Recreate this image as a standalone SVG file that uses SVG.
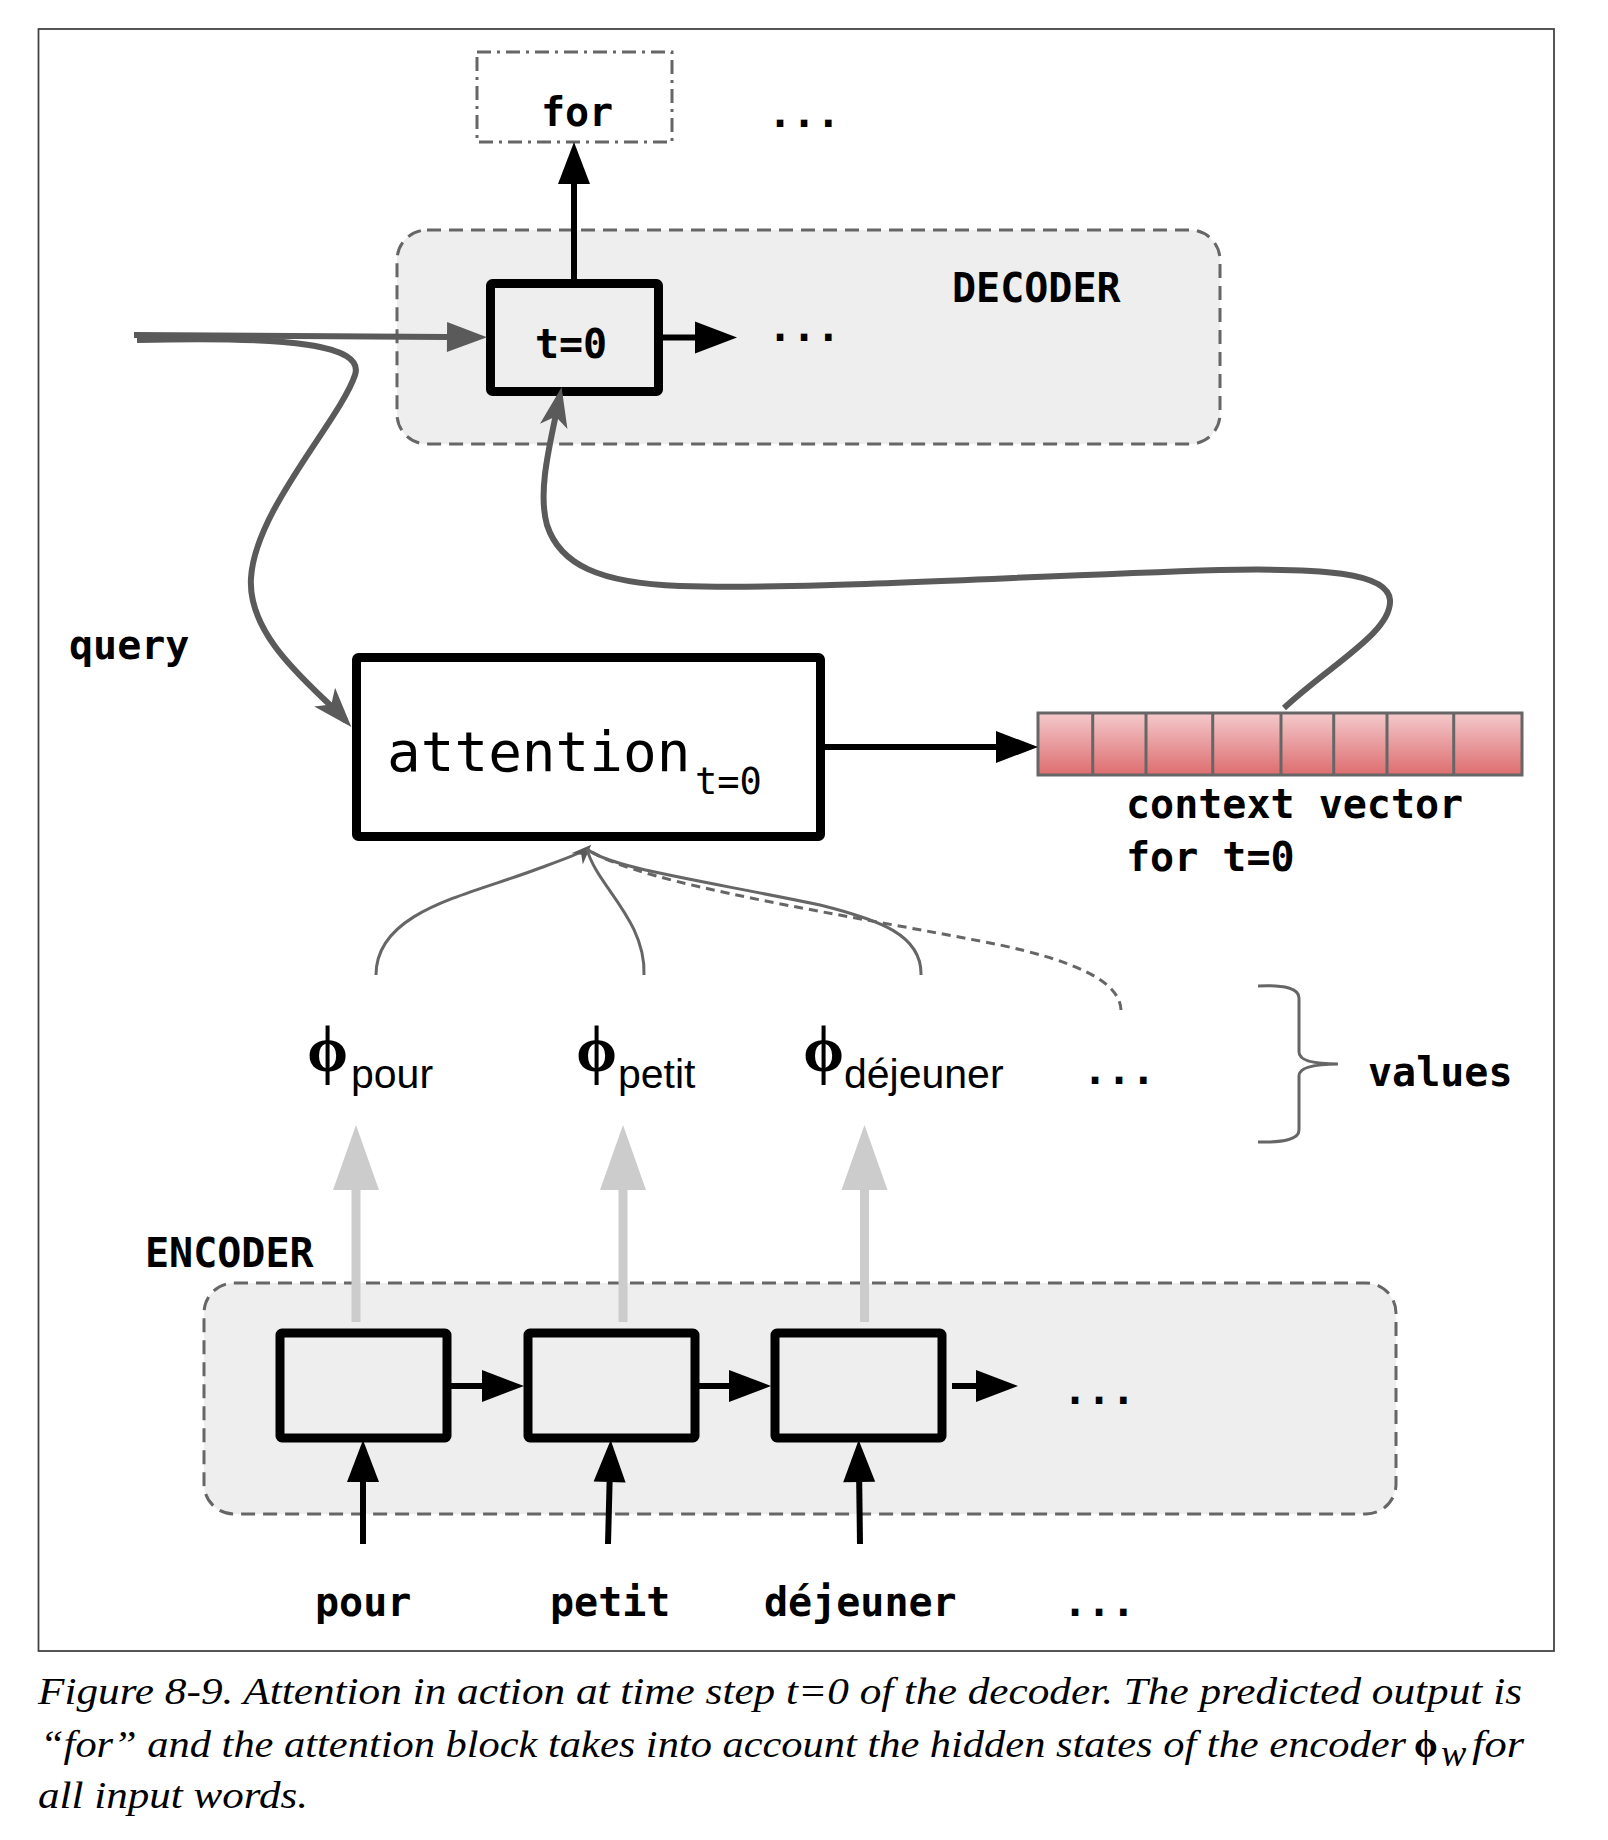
<svg xmlns="http://www.w3.org/2000/svg" width="1608" height="1840" viewBox="0 0 1608 1840">
<style>
.mono{font-family:"DejaVu Sans Mono","Liberation Mono",monospace;font-weight:bold;font-size:40px;fill:#000}
.monoR{font-family:"DejaVu Sans Mono","Liberation Mono",monospace;font-weight:normal;fill:#000}
.sans{font-family:"Liberation Sans",Arial,sans-serif;font-size:41px;fill:#000}
.phi{font-family:"Liberation Serif","DejaVu Serif",serif;font-weight:bold;font-size:66px;fill:#000}
.cap{font-family:"Liberation Serif","Times New Roman",serif;font-style:italic;font-size:38px;fill:#000}
.container{fill:#eeeeee;stroke:#666;stroke-width:3;stroke-dasharray:14 8}
.cell{fill:#eeeeee;stroke:#000;stroke-width:9}
.blk{stroke:#000;stroke-width:6;fill:none}
.gry{stroke:#5a5a5a;stroke-width:6;fill:none}
.thin{stroke:#666;stroke-width:3;fill:none}
.light{stroke:#cccccc;stroke-width:9;fill:none}
</style>
<defs>
<marker id="ah" markerUnits="userSpaceOnUse" markerWidth="42" markerHeight="32" refX="0" refY="0" orient="auto" overflow="visible">
<path d="M0,-16 L42,0 L0,16 z" fill="#000"/>
</marker>
<marker id="ahg" markerUnits="userSpaceOnUse" markerWidth="42" markerHeight="32" refX="0" refY="0" orient="auto" overflow="visible">
<path d="M0,-15 L40,0 L0,15 z" fill="#5a5a5a"/>
</marker>
<marker id="ahl" markerUnits="userSpaceOnUse" markerWidth="66" markerHeight="46" refX="0" refY="0" orient="auto" overflow="visible">
<path d="M0,-23 L65,0 L0,23 z" fill="#cccccc"/>
</marker>
<marker id="st" markerUnits="userSpaceOnUse" markerWidth="44" markerHeight="28" refX="0" refY="0" orient="auto" overflow="visible">
<path d="M8,0 L-32,-14 L-22,0 L-32,14 z" fill="#5a5a5a"/>
</marker>
<marker id="sts" markerUnits="userSpaceOnUse" markerWidth="20" markerHeight="20" refX="0" refY="0" orient="auto" overflow="visible">
<path d="M6,0 L-14,-8 L-8,0 L-14,8 z" fill="#5a5a5a"/>
</marker>
<linearGradient id="pink" x1="0" y1="0" x2="0" y2="1">
<stop offset="0" stop-color="#f4cacc"/>
<stop offset="1" stop-color="#dd6d6f"/>
</linearGradient>
</defs>
<rect width="1608" height="1840" fill="#fff"/>
<rect id="frame" x="38.5" y="29" width="1515.5" height="1622" fill="none" stroke="#444" stroke-width="1.8"/>

<g id="decoder">
<rect x="397" y="230" width="823" height="214" rx="30" class="container"/>
<text x="952" y="302" class="mono">DECODER</text>
</g>
<g id="encoder">
<rect x="204" y="1283" width="1192" height="231" rx="30" class="container"/>
<text x="145" y="1267" class="mono">ENCODER</text>
</g>

<g id="output-for">
<rect x="477" y="52" width="195" height="90" fill="none" stroke="#666" stroke-width="3" stroke-dasharray="14 6 3 6"/>
<text x="577" y="126" class="mono" text-anchor="middle">for</text>
</g>
<g id="dots-top"><text x="768" y="127" class="mono">...</text></g>
<g id="dec-t0">
<rect x="490.5" y="283.5" width="168" height="108" rx="2" class="cell"/>
<text x="571" y="358" class="mono" text-anchor="middle">t=0</text>
</g>
<g id="dots-dec"><text x="768" y="341" class="mono">...</text></g>
<g id="query-label"><text x="69" y="659" class="mono">query</text></g>
<g id="attention">
<rect x="356.5" y="657.5" width="464" height="179" rx="2" fill="#fff" stroke="#000" stroke-width="9"/>
<text x="387" y="771" class="monoR" font-size="56">attention</text>
<text x="695" y="794" class="monoR" font-size="37">t=0</text>
</g>
<g id="context-vector">
<rect x="1038" y="713" width="484" height="62" fill="url(#pink)" stroke="#666" stroke-width="3"/>
<path d="M1092.7,713V775M1146,713V775M1212.7,713V775M1281,713V775M1333.7,713V775M1387,713V775M1453.7,713V775" stroke="#666" stroke-width="3"/>
<text x="1126" y="818" class="mono">context vector</text>
<text x="1126" y="871" class="mono">for t=0</text>
</g>
<g id="phi-pour"><text x="307" y="1071" class="phi">ϕ</text><text x="351" y="1088" class="sans">pour</text></g>
<g id="phi-petit"><text x="576" y="1071" class="phi">ϕ</text><text x="618" y="1088" class="sans">petit</text></g>
<g id="phi-dejeuner"><text x="803" y="1071" class="phi">ϕ</text><text x="844" y="1088" class="sans">déjeuner</text></g>
<g id="dots-phi"><text x="1083" y="1084" class="mono">...</text></g>
<g id="values">
<path d="M1258,986 Q1299,984 1299,998 L1299,1052 Q1299,1064 1338,1064 Q1299,1064 1299,1076 L1299,1130 Q1299,1143 1258,1142" class="thin"/>
<text x="1368" y="1086" class="mono">values</text>
</g>
<g id="enc1"><rect x="280" y="1333" width="167" height="105" rx="2" class="cell"/></g>
<g id="enc2"><rect x="528" y="1333" width="167" height="105" rx="2" class="cell"/></g>
<g id="enc3"><rect x="775" y="1333" width="167" height="105" rx="2" class="cell"/></g>
<g id="dots-enc"><text x="1063" y="1404" class="mono">...</text></g>
<g id="words">
<text x="315" y="1616" class="mono">pour</text>
<text x="550" y="1616" class="mono">petit</text>
<text x="764" y="1616" class="mono">déjeuner</text>
<text x="1063" y="1616" class="mono">...</text>
</g>

<g id="connectors">
<path d="M574,279 V184" class="blk" marker-end="url(#ah)"/>
<path d="M663,337.5 H695" class="blk" marker-end="url(#ah)"/>
<path d="M825,747 H996" class="blk" marker-end="url(#ah)"/>
<path d="M451,1386 H482" class="blk" marker-end="url(#ah)"/>
<path d="M699,1386 H729" class="blk" marker-end="url(#ah)"/>
<path d="M952,1386 H976" class="blk" marker-end="url(#ah)"/>
<path d="M363,1544 V1482" class="blk" marker-end="url(#ah)"/>
<path d="M608,1544 L609.6,1482" class="blk" marker-end="url(#ah)"/>
<path d="M860,1544 L859.2,1482" class="blk" marker-end="url(#ah)"/>
<path d="M356,1322 V1190" class="light" marker-end="url(#ahl)"/>
<path d="M623,1322 V1190" class="light" marker-end="url(#ahl)"/>
<path d="M864.5,1322 V1190" class="light" marker-end="url(#ahl)"/>
<path d="M134,335 L447,337" class="gry" marker-end="url(#ahg)"/>
<path d="M137,340 C290,336 365,345 355,375 C340,420 255,510 251,578 C247,640 320,692 346,721" class="gry" marker-end="url(#st)"/>
<path d="M1284,708 C1330,665 1392,632 1390,600 C1388,572 1320,568 1220,570 C1000,577 800,590 680,586 C600,583 560,565 547,525 C537,490 551,440 560,395" class="gry" marker-end="url(#st)"/>
<path d="M376,975 C376,910 470,895 540,868 C570,857 584,852 587,849" class="thin" marker-end="url(#sts)"/>
<path d="M644,975 C646,920 596,885 587,849" class="thin"/>
<path d="M921,975 C922,935 880,920 820,905 C700,880 610,868 587,849" class="thin"/>
<path d="M1121,1010 C1120,980 1070,960 1000,945 C850,915 640,885 587,849" class="thin" stroke-dasharray="9 6"/>
</g>

<g id="caption">
<text x="38" y="1704" class="cap" textLength="1484" lengthAdjust="spacingAndGlyphs">Figure 8-9. Attention in action at time step t=0 of the decoder. The predicted output is</text>
<text x="40" y="1757" class="cap" textLength="1366" lengthAdjust="spacingAndGlyphs">“for” and the attention block takes into account the hidden states of the encoder</text>
<text x="1414" y="1757" font-family="Liberation Serif,serif" font-weight="bold" font-size="38">ϕ</text>
<text x="1441" y="1766" class="cap" font-size="22">w</text>
<text x="1472" y="1757" class="cap" textLength="52" lengthAdjust="spacingAndGlyphs">for</text>
<text x="38" y="1808" class="cap" textLength="270" lengthAdjust="spacingAndGlyphs">all input words.</text>
</g>
</svg>
